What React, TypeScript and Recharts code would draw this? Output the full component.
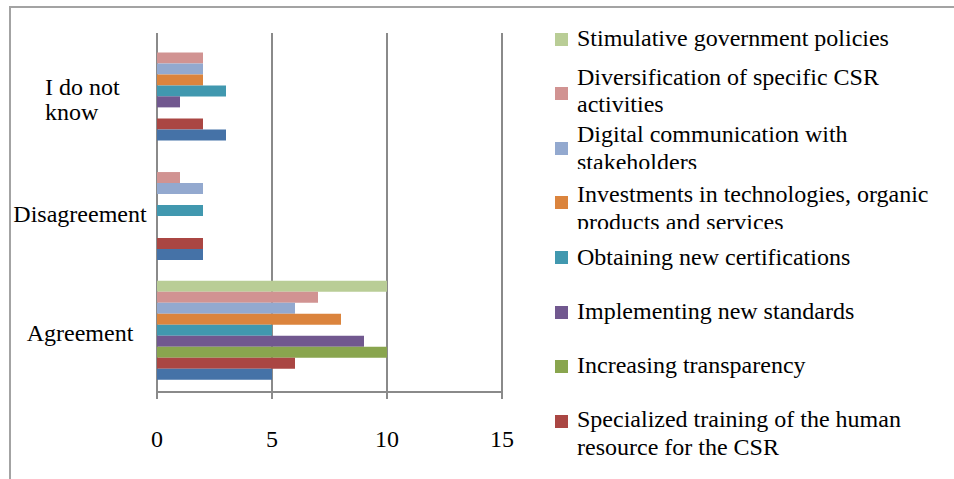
import React from "react";
import { Bar, BarChart, CartesianGrid, Legend, XAxis, YAxis } from "recharts";

const FONT = '"Liberation Serif", "Times New Roman", serif';
const AXIS_GREY = "#8a8a8a";

// categories, top to bottom (Excel puts the first one at the bottom)
const categories = ["I do not know", "Disagreement", "Agreement"];
const categoryLines = [["I do not", "know"], ["Disagreement"], ["Agreement"]];

const xTicks = [0, 5, 10, 15];
const boundaryTicks = [0, 1, 2, 3];

// series, listed from the top bar of each group down
const seriesNames = [
  "Stimulative government policies",
  "Diversification of specific CSR activities",
  "Digital communication with stakeholders",
  "Investments in technologies, organic products and services",
  "Obtaining new certifications",
  "Implementing new standards",
  "Increasing transparency",
  "Specialized training of the human resource for the CSR",
  "Other",
];
const seriesColors = [
  "#B9CD96",
  "#D19392",
  "#93A9CF",
  "#DB843D",
  "#4198AF",
  "#71588F",
  "#89A54E",
  "#AA4643",
  "#4572A7",
];

// values per category: [I do not know, Disagreement, Agreement]
const stimulative = [0, 0, 10];
const diversification = [2, 1, 7];
const digital = [2, 2, 6];
const investments = [2, 0, 8];
const certifications = [3, 2, 5];
const standards = [1, 0, 9];
const transparency = [0, 0, 10];
const training = [2, 2, 6];
const other = [3, 2, 5];

const seriesValues = [
  stimulative,
  diversification,
  digital,
  investments,
  certifications,
  standards,
  transparency,
  training,
  other,
];

// legend shows only the first eight entries (the last one is cut off in the original)
const legendCount = 8;
const legendBaselineShift = [8, -8, -5, 0, 8, 8, 7, 7];

const data = categories.map((name, i) => {
  const row: Record<string, string | number> = { name };
  seriesValues.forEach((vals, s) => {
    row["s" + s] = vals[i];
  });
  return row;
});

function CategoryTick(props: any) {
  const { x, y, payload } = props;
  const lines = categoryLines[categories.indexOf(payload.value)] || [payload.value];
  if (lines.length === 1) {
    return (
      <text x={x - 77} y={y + 9} textAnchor="middle" fill="#000" fontSize={24} fontFamily={FONT}>
        {lines[0]}
      </text>
    );
  }
  return (
    <text x={x - 112} y={y + 2} textAnchor="start" fill="#000" fontSize={24} fontFamily={FONT}>
      {lines.map((l: string, i: number) => (
        <tspan key={i} x={x - 112} dy={i === 0 ? 0 : 25}>
          {l}
        </tspan>
      ))}
    </text>
  );
}

function LegendBox() {
  const pitch = 54.6;
  return (
    <div style={{ position: "relative", width: 414, height: 465, fontFamily: FONT }}>
      {seriesNames.slice(0, legendCount).map((name, i) => {
        const cy = 39 + pitch * i;
        return (
          <React.Fragment key={name}>
            <div
              style={{
                position: "absolute",
                left: 15,
                top: cy - 6.5,
                width: 13,
                height: 13,
                background: seriesColors[i],
              }}
            />
            <div
              style={{
                position: "absolute",
                left: 37,
                top: cy + legendBaselineShift[i] - 21.8,
                width: 365,
                height: i < legendCount - 1 ? 48 : undefined,
                overflow: "hidden",
                fontSize: 24,
                lineHeight: "27.5px",
                color: "#000",
              }}
            >
              {name}
            </div>
          </React.Fragment>
        );
      })}
    </div>
  );
}

export default function App() {
  return (
    <div
      style={{
        position: "absolute",
        left: 0,
        top: 0,
        width: 954,
        height: 479,
        background: "#fff",
        overflow: "hidden",
      }}
    >
      <div
        style={{
          position: "absolute",
          left: 9,
          top: 6,
          width: 960,
          height: 490,
          borderTop: "2px solid #a3a3a3",
          borderLeft: "2px solid #a3a3a3",
        }}
      />
      <BarChart
        width={954}
        height={479}
        data={data}
        layout="vertical"
        margin={{ top: 33, right: 452, bottom: 27, left: 10 }}
        barCategoryGap="7%"
        barGap={0}
      >
        <CartesianGrid horizontal={false} stroke={AXIS_GREY} strokeWidth={2} />
        <XAxis
          type="number"
          domain={[0, 15]}
          ticks={xTicks}
          height={60}
          tickSize={7}
          tickMargin={31}
          axisLine={{ stroke: AXIS_GREY, strokeWidth: 2 }}
          tickLine={{ stroke: AXIS_GREY, strokeWidth: 2 }}
          tick={{ fill: "#000", fontSize: 24, fontFamily: FONT }}
        />
        <YAxis
          yAxisId="frame"
          type="number"
          domain={[0, 3]}
          ticks={boundaryTicks}
          allowDataOverflow
          width={0}
          tick={false}
          tickSize={7}
          axisLine={{ stroke: AXIS_GREY, strokeWidth: 2 }}
          tickLine={{ stroke: AXIS_GREY, strokeWidth: 2 }}
        />
        <YAxis
          type="category"
          dataKey="name"
          width={147}
          tickSize={0}
          tickMargin={0}
          axisLine={false}
          tickLine={false}
          tick={<CategoryTick />}
        />
        {seriesNames.map((name, s) => (
          <Bar
            key={name}
            dataKey={"s" + s}
            name={name}
            fill={seriesColors[s]}
            isAnimationActive={false}
          />
        ))}
        <Legend
          layout="vertical"
          align="center"
          verticalAlign="middle"
          wrapperStyle={{ left: 540, top: 0, width: 414, height: 465, overflow: "hidden" }}
          content={() => <LegendBox />}
        />
      </BarChart>
    </div>
  );
}
